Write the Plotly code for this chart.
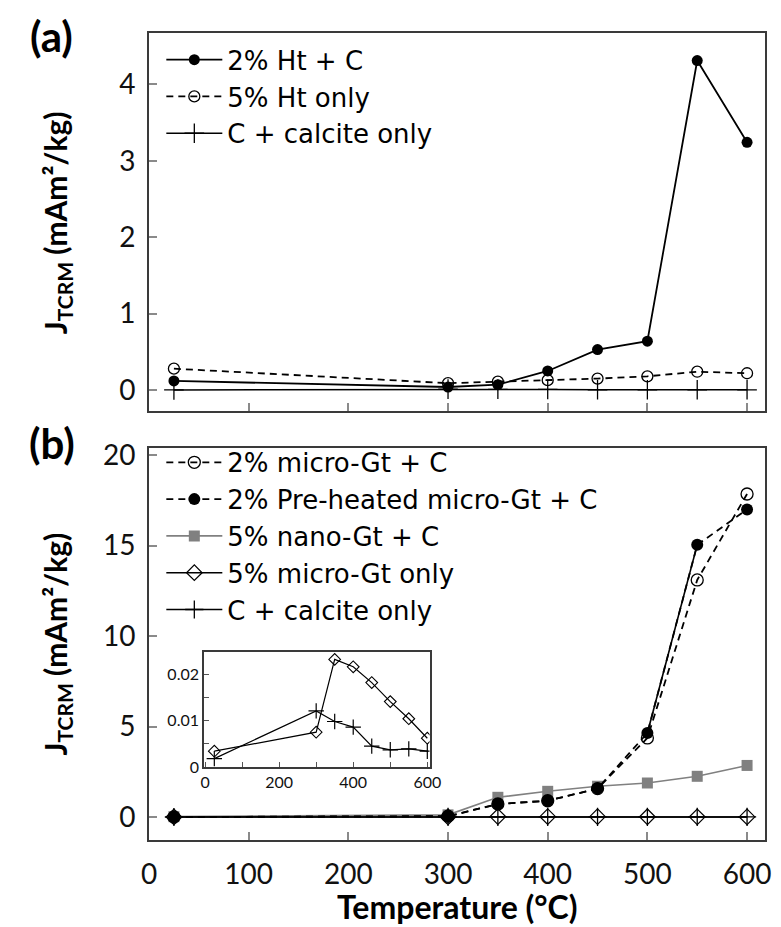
import plotly.graph_objects as go

# ---------------- data ----------------
temps = [25, 300, 350, 400, 450, 500, 550, 600]

# panel (a)
ht2_c = [0.12, 0.04, 0.07, 0.25, 0.53, 0.64, 4.31, 3.24]
ht5_only = [0.28, 0.09, 0.11, 0.13, 0.15, 0.18, 0.24, 0.22]

# shared: C + calcite only and 5% micro-Gt only (also shown in inset)
calcite_only = [0.0018, 0.0121, 0.0098, 0.0086, 0.0045, 0.0037, 0.0039, 0.0034]
microgt5_only = [0.0034, 0.0075, 0.0232, 0.0216, 0.0182, 0.0141, 0.0104, 0.0062]

# panel (b)
microgt2_c = [0.0, 0.05, 0.72, 0.90, 1.57, 4.37, 13.1, 17.85]
preheated2_c = [0.0, 0.03, 0.72, 0.90, 1.57, 4.64, 15.04, 17.0]
nanogt5_c = [0.02, 0.12, 1.09, 1.42, 1.70, 1.88, 2.25, 2.85]

x_ticks_main = [0, 100, 200, 300, 400, 500, 600]

# ---------------- style ----------------
FONT = "Lato"
LEGFONT = "DejaVu Sans"
BLACK = "#000000"
GRAY = "#808080"
DASH = "7px,5px"

fig = go.Figure()

# ----- panel (a) -----
fig.add_trace(go.Scatter(
    x=temps, y=ht2_c, name="2% Ht + C", mode="lines+markers",
    line=dict(color=BLACK, width=1.8),
    marker=dict(symbol="circle", size=11, color=BLACK),
    xaxis="x", yaxis="y", legend="legend"))
fig.add_trace(go.Scatter(
    x=temps, y=ht5_only, name="5% Ht only", mode="lines+markers",
    line=dict(color=BLACK, width=1.8, dash=DASH),
    marker=dict(symbol="circle-open", size=11, color=BLACK, line=dict(width=1.3)),
    xaxis="x", yaxis="y", legend="legend"))
fig.add_trace(go.Scatter(
    x=temps, y=calcite_only, name="C + calcite only", mode="lines+markers",
    line=dict(color=BLACK, width=1.5),
    marker=dict(symbol="cross-thin", size=14, color=BLACK, line=dict(width=1.3, color=BLACK)),
    xaxis="x", yaxis="y", legend="legend"))

# ----- panel (b) -----
fig.add_trace(go.Scatter(
    x=temps, y=nanogt5_c, name="5% nano-Gt + C", mode="lines+markers",
    line=dict(color=GRAY, width=1.6),
    marker=dict(symbol="square", size=11, color=GRAY),
    xaxis="x2", yaxis="y2", legend="legend2", legendrank=3))
fig.add_trace(go.Scatter(
    x=temps, y=microgt5_only, name="5% micro-Gt only", mode="lines+markers",
    line=dict(color=BLACK, width=1.5),
    marker=dict(symbol="diamond-open", size=12, color=BLACK, line=dict(width=1.2)),
    xaxis="x2", yaxis="y2", legend="legend2", legendrank=4))
fig.add_trace(go.Scatter(
    x=temps, y=calcite_only, name="C + calcite only", mode="lines+markers",
    line=dict(color=BLACK, width=1.5),
    marker=dict(symbol="cross-thin", size=13, color=BLACK, line=dict(width=1.3, color=BLACK)),
    xaxis="x2", yaxis="y2", legend="legend2", legendrank=5))
fig.add_trace(go.Scatter(
    x=temps, y=microgt2_c, name="2% micro-Gt + C", mode="lines+markers",
    line=dict(color=BLACK, width=1.8, dash=DASH),
    marker=dict(symbol="circle-open", size=12, color=BLACK, line=dict(width=1.3)),
    xaxis="x2", yaxis="y2", legend="legend2", legendrank=1))
fig.add_trace(go.Scatter(
    x=temps, y=preheated2_c, name="2% Pre-heated micro-Gt + C", mode="lines+markers",
    line=dict(color=BLACK, width=1.8, dash=DASH),
    marker=dict(symbol="circle", size=12, color=BLACK),
    xaxis="x2", yaxis="y2", legend="legend2", legendrank=2))
# solid segment of the pre-heated curve between 500 and 550 °C
fig.add_trace(go.Scatter(
    x=temps[5:7], y=preheated2_c[5:7], mode="lines", showlegend=False,
    line=dict(color=BLACK, width=1.6), hoverinfo="skip",
    xaxis="x2", yaxis="y2"))

# ----- inset -----
fig.add_trace(go.Scatter(
    x=temps, y=microgt5_only, mode="lines+markers", showlegend=False,
    line=dict(color=BLACK, width=1.2),
    marker=dict(symbol="diamond-open", size=9, color=BLACK, line=dict(width=1.1)),
    xaxis="x3", yaxis="y3"))
fig.add_trace(go.Scatter(
    x=temps, y=calcite_only, mode="lines+markers", showlegend=False,
    line=dict(color=BLACK, width=1.2),
    marker=dict(symbol="cross-thin", size=11, color=BLACK, line=dict(width=1.2, color=BLACK)),
    xaxis="x3", yaxis="y3"))

# ---------------- layout ----------------
axis_common = dict(showline=True, mirror=True, linecolor="#3a3a3a", linewidth=2,
                   showgrid=False, zeroline=False, ticks="inside", ticklen=8,
                   tickcolor="#8a8a8a", tickwidth=1.5)
tickfont = dict(family=FONT, size=28, color="#111111")
inset_common = dict(tickfont=dict(family=FONT, size=16, color="#111111"),
                    showline=True, mirror=True, linecolor="#3a3a3a", linewidth=1.5,
                    showgrid=False, zeroline=False, ticks="inside", ticklen=5,
                    tickcolor="#555555", tickwidth=1.2)

fig.update_layout(
    width=781, height=927,
    margin=dict(l=141, r=12, t=25, b=95),
    paper_bgcolor="white", plot_bgcolor="white",
    font=dict(family=FONT, color=BLACK),
    xaxis=dict(domain=[0, 1], anchor="y", range=[0, 618], tickvals=x_ticks_main[1:],
               showticklabels=False, **axis_common),
    yaxis=dict(domain=[0.531, 1], anchor="x", range=[-0.28, 4.67], dtick=1,
               tickfont=tickfont, ticklabelstandoff=6, **axis_common),
    xaxis2=dict(domain=[0, 1], anchor="y2", range=[0, 618], tickvals=x_ticks_main,
                tickfont=tickfont, ticklabelstandoff=8, **axis_common),
    yaxis2=dict(domain=[0, 0.4857], anchor="x2", range=[-1.27, 20.39], dtick=5,
                tickfont=tickfont, ticklabelstandoff=6, **axis_common),
    xaxis3=dict(domain=[0.0892, 0.4554], anchor="y3", range=[-3, 606],
                tick0=0, dtick=200,
                minor=dict(tick0=0, dtick=100, ticks="inside", ticklen=5,
                           tickcolor="#555555", tickwidth=1.2, showgrid=False),
                **inset_common),
    yaxis3=dict(domain=[0.0905, 0.2330], anchor="x3", range=[0, 0.0248],
                tick0=0, dtick=0.01,
                minor=dict(tick0=0, dtick=0.005, ticks="inside", ticklen=5,
                           tickcolor="#555555", tickwidth=1.2, showgrid=False),
                **inset_common),
    legend=dict(x=0.02, y=0.996, xanchor="left", yanchor="top",
                bgcolor="rgba(0,0,0,0)", borderwidth=0, itemwidth=56,
                font=dict(family=LEGFONT, size=26, color=BLACK), tracegroupgap=0),
    legend2=dict(x=0.02, y=0.497, xanchor="left", yanchor="top",
                 bgcolor="rgba(0,0,0,0)", borderwidth=0, itemwidth=56,
                 font=dict(family=LEGFONT, size=26, color=BLACK), tracegroupgap=0),
    showlegend=True,
)

title_font = dict(family=FONT, size=30, color=BLACK)
ytitle = "<b>J<sub>TCRM</sub> (mAm²/kg)</b>"
fig.add_annotation(text=ytitle, textangle=-90, xref="paper", yref="paper",
                   x=-0.15, y=0.765, xanchor="center", yanchor="middle",
                   showarrow=False, font=title_font)
fig.add_annotation(text=ytitle, textangle=-90, xref="paper", yref="paper",
                   x=-0.15, y=0.243, xanchor="center", yanchor="middle",
                   showarrow=False, font=title_font)
fig.add_annotation(text="<b>Temperature (°C)</b>", xref="paper", yref="paper",
                   x=0.5, y=-0.083, xanchor="center", yanchor="middle",
                   showarrow=False, font=dict(family=FONT, size=32, color=BLACK))
fig.add_annotation(text="<b>(a)</b>", xref="paper", yref="paper",
                   x=-0.158, y=1.03, xanchor="center", yanchor="top",
                   showarrow=False, font=dict(family=FONT, size=42, color=BLACK))
fig.add_annotation(text="<b>(b)</b>", xref="paper", yref="paper",
                   x=-0.158, y=0.5257, xanchor="center", yanchor="top",
                   showarrow=False, font=dict(family=FONT, size=42, color=BLACK))

fig.write_html("out.html")
